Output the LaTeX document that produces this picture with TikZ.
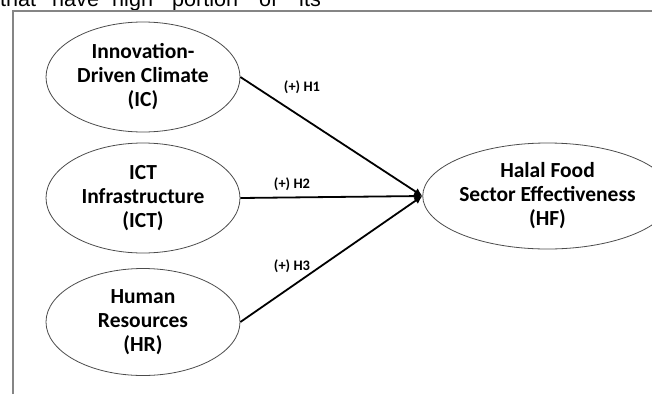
\documentclass[tikz,border=0pt]{standalone}
\usepackage{fontspec}
\setmainfont{Carlito}
\newfontfamily\bodyfont{Liberation Sans}
\usetikzlibrary{shapes.geometric,arrows.meta}
\begin{document}
\begin{tikzpicture}[x=1pt,y=-1pt,
  construct/.style={ellipse,draw=black!70,line width=0.8pt,inner sep=0pt,
    minimum width=194pt,minimum height=110pt,align=center,
    font=\fontsize{21.5}{24}\selectfont\bfseries},
  path/.style={line width=1.8pt,-{Latex[length=8pt,width=8pt]}},
  hyp/.style={font=\fontsize{14.5}{16}\selectfont\bfseries},
  word/.style={anchor=base west,inner sep=0pt,font=\bodyfont\fontsize{21.6}{24}\selectfont},
  frameline/.style={draw=black!48,line width=2pt}]
\useasboundingbox (0,0) rectangle (652,394);
% running text of the page above the figure frame
\begin{scope}
  \clip (0,0) rectangle (652,394);
  \node[word] (w1) at (0,6.5) {that};
  \node[word] (w2) at (52,6.5) {have};
  \node[word] (w3) at (112,6.5) {high};
  \node[word] (w4) at (172,6.5) {portion};
  \node[word] (w5) at (259,6.5) {of};
  \node[word] (w6) at (299,6.5) {its};
\end{scope}
% figure frame
\draw[frameline] (13,394) -- (13,10.5) -- (652,10.5);
% constructs
\node[construct] (ic)  at (143,77)  {Innovation-\\Driven Climate\\(IC)};
\node[construct] (ict) at (143,198) {ICT\\Infrastructure\\(ICT)};
\node[construct,minimum height=107pt] (hr) at (143,322) {Human\\Resources\\(HR)};
\node[construct,minimum width=197pt,minimum height=106pt] (hf) at (547.5,196) {Halal Food\\Sector Effectiveness\\(HF)};
% hypothesised paths
\draw[path] (ic.east) -- (hf.west);
\draw[path] (ict.east) -- (hf.west);
\draw[path] (hr.east) -- (hf.west);
\node[hyp] (h1) at (302,87) {(+) H1};
\node[hyp] (h2) at (292,184) {(+) H2};
\node[hyp] (h3) at (292,266) {(+) H3};
\end{tikzpicture}
\end{document}
